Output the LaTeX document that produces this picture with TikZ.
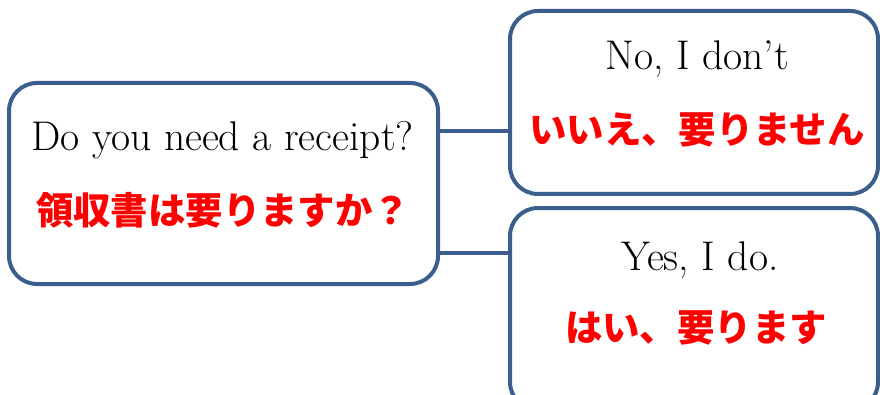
\documentclass[tikz,border=0pt]{standalone}
\usepackage{fontspec}
\newfontfamily\cjk{Noto Sans CJK JP Black}
\definecolor{boxblue}{HTML}{3A5F8C}
\definecolor{jpred}{HTML}{FF0000}
\begin{document}
\begin{tikzpicture}[x=1pt,y=1pt,
  box/.style={draw=boxblue,line width=4pt,rounded corners=28pt,fill=white,inner sep=0pt},
  en/.style={anchor=base,inner sep=0pt,font=\fontsize{41.5}{46}\selectfont},
  jp/.style={anchor=center,inner sep=0pt,text=jpred,font=\cjk\fontsize{37.4}{42}\selectfont},
  link/.style={draw=boxblue,line width=4pt}]
\useasboundingbox (0,0) rectangle (880,394);
\clip (0,0) rectangle (880,394);
\node[box,minimum width=429pt,minimum height=201pt] (L) at (223.5,210.5) {};
\node[box,minimum width=368pt,minimum height=183pt] (A) at (694,291.5) {};
\node[box,minimum width=368pt,minimum height=202pt] (B) at (694,85) {};
\draw[link] ([yshift=52.5pt]L.east) -- ([yshift=52.5pt]L.east -| A.west);
\draw[link] ([yshift=-69.5pt]L.east) -- ([yshift=-69.5pt]L.east -| B.west);
\node[en] (lq) at (222.5,243) {Do you need a receipt?};
\node[jp] (lj) at (223,184) {領収書は要りますか？};
\node[en] (aq) at (697,324) {No, I don’t};
\node[jp] (aj) at (697,264) {いいえ、要りません};
\node[en] (bq) at (700,124) {Yes, I do.};
\node[jp] (bj) at (696,66) {はい、要ります};
\end{tikzpicture}
\end{document}
